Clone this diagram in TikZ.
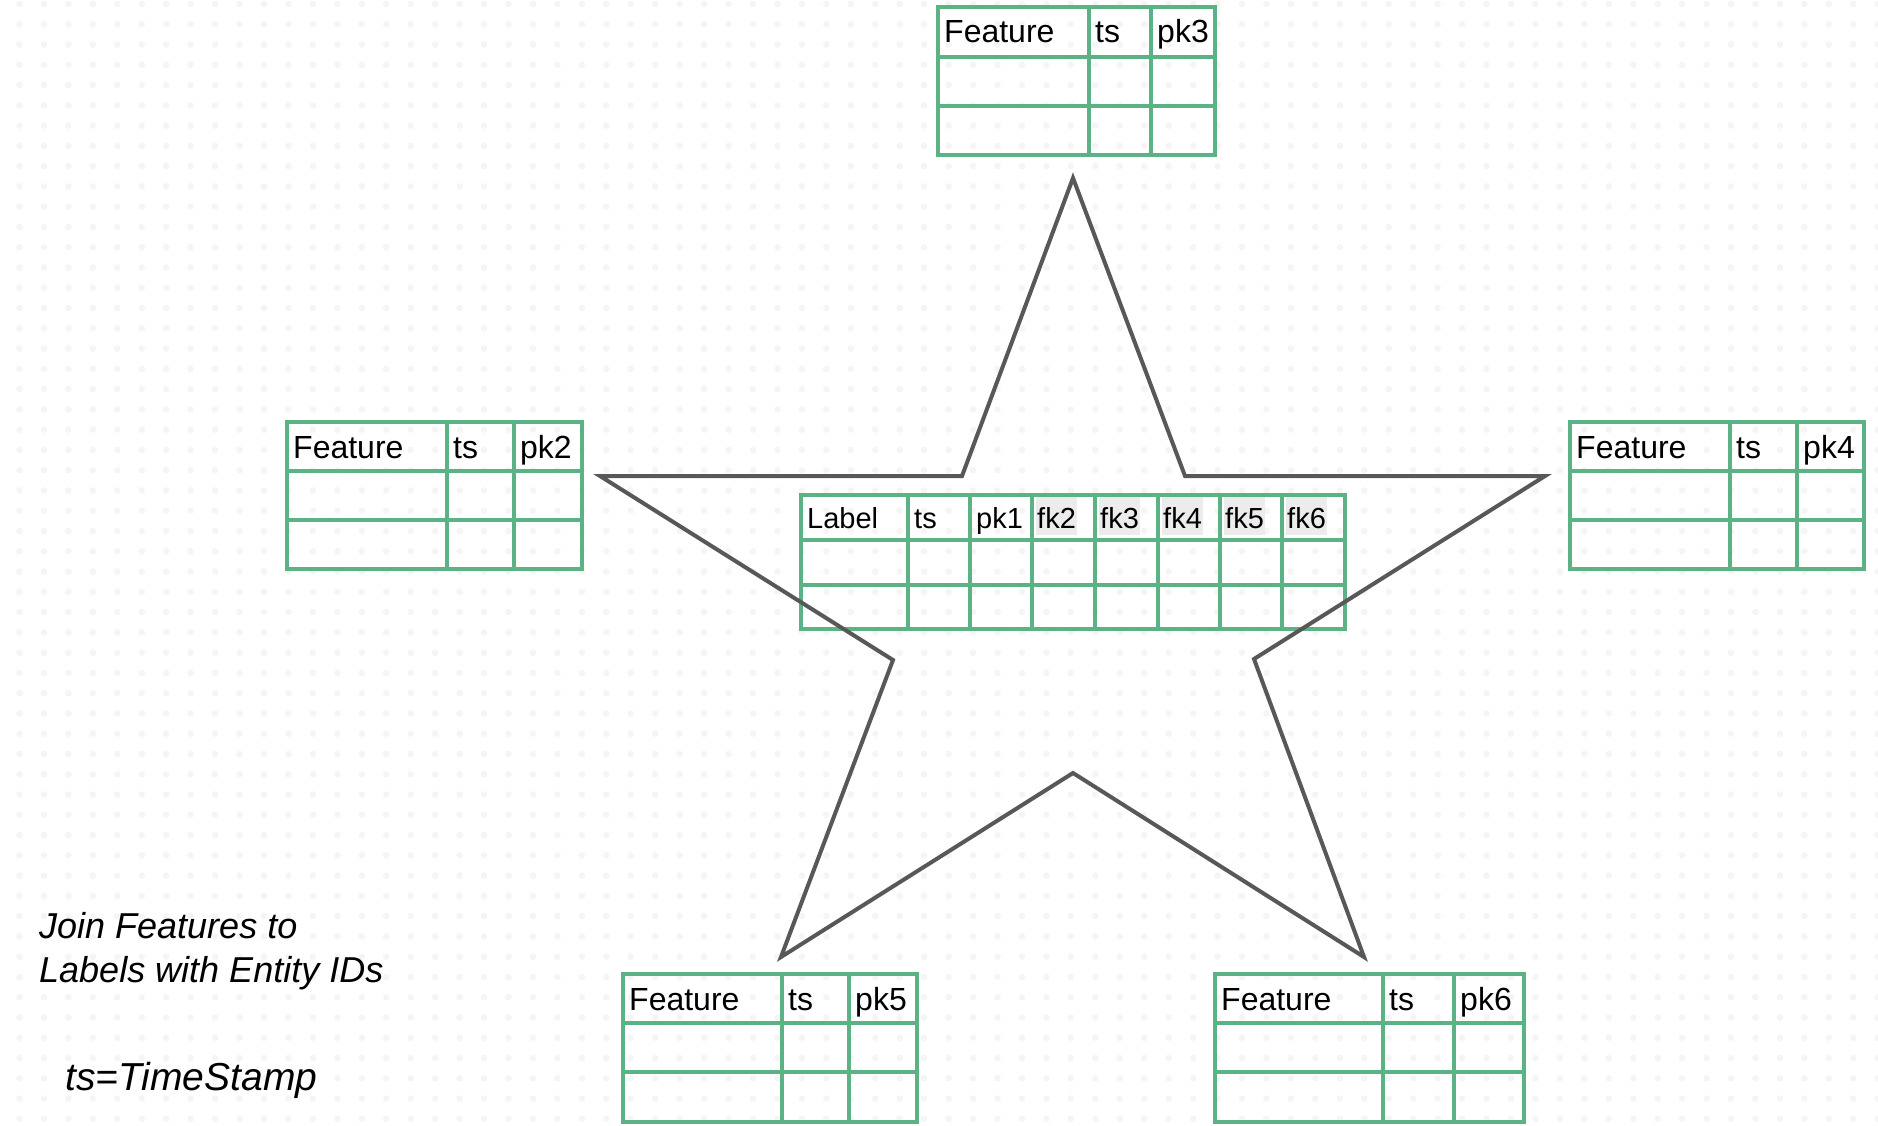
\documentclass[tikz,border=0pt]{standalone}
\usepackage{fontspec}
\setmainfont{Liberation Sans}
\definecolor{tgreen}{RGB}{90,178,133}
\definecolor{stargray}{RGB}{88,88,88}
\definecolor{dotgray}{RGB}{245,245,245}
\definecolor{hlgray}{RGB}{236,236,236}
\newcommand\sidetab[9]{%
  \draw[tline] (#2,#6) rectangle (#5,#9);
  \draw[tline] (#2,#7) -- (#5,#7) (#2,#8) -- (#5,#8) (#3,#6) -- (#3,#9) (#4,#6) -- (#4,#9);
  \node[hdr] (feat#1) at ({#2+6},{#6+36}) {Feature};
  \node[hdr] (ts#1) at ({#3+6},{#6+36}) {ts};
  \node[hdr] (pk#1) at ({#4+6},{#6+36}) {pk#1};
}
\begin{document}
\begin{tikzpicture}[x=1pt,y=-1pt,
  tline/.style={draw=tgreen, line width=3.1pt},
  hdr/.style={anchor=base west, inner sep=0pt, font=\fontsize{32}{38}\selectfont},
  chdr/.style={anchor=base west, inner sep=0pt, font=\fontsize{29}{35}\selectfont},
  fkhdr/.style={chdr, fill=hlgray, inner xsep=1pt, text height=31pt, text depth=7pt},
  note/.style={anchor=base west, inner sep=0pt, font=\fontsize{36}{44}\selectfont\itshape},
  starline/.style={draw=stargray, line width=4pt, line join=miter}]
\useasboundingbox (0,0) rectangle (1878,1126);
% dot grid background
\foreach \i in {0,...,76}{
  \foreach \j in {0,...,55}{
    \fill[dotgray] ({19.5+24.45*\i},{4+20.27*\j}) circle (3.3);
  }
}
% side tables
\sidetab{3}{938}{1089}{1151}{1215}{7}{57}{106}{155}
\sidetab{2}{287}{447}{514}{582}{422}{471}{520}{569}
\sidetab{4}{1570}{1730}{1797}{1864}{422}{471}{520}{569}
\sidetab{5}{623}{782}{849}{917}{974}{1023}{1072}{1122}
\sidetab{6}{1215}{1383}{1454}{1524}{974}{1023}{1072}{1122}
% center label table
\draw[tline] (801,495) rectangle (1345,629);
\draw[tline] (801,540) -- (1345,540) (801,585) -- (1345,585);
\foreach \c in {908,970,1032,1095,1158,1220,1282}{
  \draw[tline] (\c,495) -- (\c,629);
}
\node[chdr] (lbl) at (807,528) {Label};
\node[chdr] (lts) at (914,528) {ts};
\node[chdr] (lpk1) at (976,528) {pk1};
\node[fkhdr] (fk2) at (1036,528) {fk2};
\node[fkhdr] (fk3) at (1099,528) {fk3};
\node[fkhdr] (fk4) at (1162,528) {fk4};
\node[fkhdr] (fk5) at (1224,528) {fk5};
\node[fkhdr] (fk6) at (1286,528) {fk6};
% star
\draw[starline] (1073,178) -- (1185,476) -- (1545,476) -- (1254,659) -- (1364,957)
  -- (1073,773) -- (781,957) -- (893,660) -- (600,476) -- (962,476) -- cycle;
% notes
\node[note] (note1) at (39,938) {Join Features to};
\node[note] (note2) at (39,982) {Labels with Entity IDs};
\node[note, font=\fontsize{39}{46}\selectfont\itshape] (note3) at (65,1090) {ts=TimeStamp};
\end{tikzpicture}
\end{document}
